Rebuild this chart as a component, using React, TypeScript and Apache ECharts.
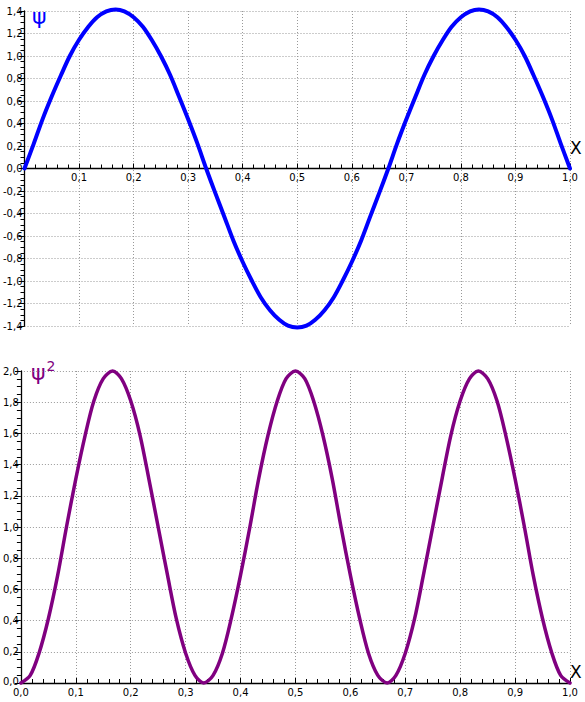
import React, { useEffect, useRef } from "react";
import * as echarts from "echarts";

// x positions (step 1/60)
const xValues = [
  0, 0.017, 0.033, 0.05, 0.067, 0.083, 0.1, 0.117, 0.133, 0.15,
  0.167, 0.183, 0.2, 0.217, 0.233, 0.25, 0.267, 0.283, 0.3, 0.317,
  0.333, 0.35, 0.367, 0.383, 0.4, 0.417, 0.433, 0.45, 0.467, 0.483,
  0.5, 0.517, 0.533, 0.55, 0.567, 0.583, 0.6, 0.617, 0.633, 0.65,
  0.667, 0.683, 0.7, 0.717, 0.733, 0.75, 0.767, 0.783, 0.8, 0.817,
  0.833, 0.85, 0.867, 0.883, 0.9, 0.917, 0.933, 0.95, 0.967, 0.983, 1.0,
];
// psi values
const psiValues = [
  0, 0.221, 0.437, 0.642, 0.831, 1.0, 1.144, 1.26, 1.345, 1.397,
  1.414, 1.397, 1.345, 1.26, 1.144, 1.0, 0.831, 0.642, 0.437, 0.221,
  0, -0.221, -0.437, -0.642, -0.831, -1.0, -1.144, -1.26, -1.345, -1.397,
  -1.414, -1.397, -1.345, -1.26, -1.144, -1.0, -0.831, -0.642, -0.437, -0.221,
  0, 0.221, 0.437, 0.642, 0.831, 1.0, 1.144, 1.26, 1.345, 1.397,
  1.414, 1.397, 1.345, 1.26, 1.144, 1.0, 0.831, 0.642, 0.437, 0.221, 0,
];
// psi^2 values
const psi2Values = [
  0, 0.049, 0.191, 0.412, 0.691, 1.0, 1.309, 1.588, 1.809, 1.951,
  2.0, 1.951, 1.809, 1.588, 1.309, 1.0, 0.691, 0.412, 0.191, 0.049,
  0, 0.049, 0.191, 0.412, 0.691, 1.0, 1.309, 1.588, 1.809, 1.951,
  2.0, 1.951, 1.809, 1.588, 1.309, 1.0, 0.691, 0.412, 0.191, 0.049,
  0, 0.049, 0.191, 0.412, 0.691, 1.0, 1.309, 1.588, 1.809, 1.951,
  2.0, 1.951, 1.809, 1.588, 1.309, 1.0, 0.691, 0.412, 0.191, 0.049, 0,
];

const fmt = (v: number) => v.toFixed(1).replace(".", ",");
const FONT = "DejaVu Sans";

export default function App() {
  const ref = useRef<HTMLDivElement>(null);
  useEffect(() => {
    document.body.style.margin = "0";
    const chart = echarts.init(ref.current!, null, { renderer: "svg" });
    const splitLine = { show: true, lineStyle: { color: "#999", type: [1, 2] as any, width: 1 } };
    const axisLine = { show: true, onZero: false, lineStyle: { color: "#000", width: 1.3 } };
    const label = { color: "#000", fontSize: 10, fontFamily: FONT };
    const xAxisBase = (gridIndex: number, showZero: boolean, offset: number) => ({
      type: "value",
      gridIndex,
      position: "bottom",
      offset,
      min: 0,
      max: 1,
      interval: 0.1,
      axisLine,
      axisTick: { show: true, inside: true, length: 5, lineStyle: { color: "#000" } },
      minorTick: { show: true, splitNumber: 5, length: 4, lineStyle: { color: "#000" } },
      splitLine,
      axisLabel: {
        ...label,
        margin: 4,
        formatter: (v: number) => (v === 0 && !showZero ? "" : fmt(v)),
      },
    });
    const yAxisBase = (gridIndex: number, min: number, max: number, liftZero: boolean) => ({
      type: "value",
      gridIndex,
      min,
      max,
      interval: 0.2,
      axisLine,
      axisTick: { show: true, length: 6, lineStyle: { color: "#000" } },
      minorTick: { show: true, splitNumber: 4, length: 4, lineStyle: { color: "#000" } },
      splitLine,
      axisLabel: {
        ...label,
        margin: 2,
        formatter: (v: number) => (liftZero && Math.abs(v) < 1e-9 ? "{z|" + fmt(v) + "}" : fmt(v)),
        rich: { z: { ...label, padding: [0, 0, 3, 0] } },
      },
    });
    chart.setOption({
      animation: false,
      grid: [
        { left: 20, right: 15, top: 11, height: 315 },
        { left: 20, right: 15, top: 371, height: 312 },
      ],
      xAxis: [xAxisBase(0, false, -157.5), xAxisBase(1, true, 0)],
      yAxis: [yAxisBase(0, -1.4, 1.4, false), yAxisBase(1, 0, 2, true)],
      series: [
        {
          type: "line",
          xAxisIndex: 0,
          yAxisIndex: 0,
          data: xValues.map((x, i) => [x, psiValues[i]]),
          smooth: 0.3,
          showSymbol: false,
          clip: false,
          lineStyle: { color: "#0000ff", width: 4, join: "round", cap: "round" },
        },
        {
          type: "line",
          xAxisIndex: 1,
          yAxisIndex: 1,
          data: xValues.map((x, i) => [x, psi2Values[i]]),
          smooth: 0.3,
          showSymbol: false,
          clip: false,
          lineStyle: { color: "#800080", width: 3.5, join: "round", cap: "round" },
        },
      ],
      graphic: [
        {
          type: "text",
          left: 32,
          top: 5,
          style: { text: "ψ", fill: "#0000ff", font: `22px ${FONT}` },
        },
        {
          type: "text",
          left: 570,
          top: 139,
          style: { text: "X", fill: "#000", font: `17px ${FONT}` },
        },
        {
          type: "text",
          left: 31,
          top: 359,
          style: {
            text: "{a|ψ}{b|2}",
            rich: {
              a: { fill: "#800080", fontSize: 22, fontFamily: FONT, verticalAlign: "bottom" },
              b: { fill: "#800080", fontSize: 14, fontFamily: FONT, verticalAlign: "top", padding: [0, 0, 10, 1] },
            },
          },
        },
        {
          type: "text",
          left: 570,
          top: 663,
          style: { text: "X", fill: "#000", font: `17px ${FONT}` },
        },
      ],
    });
    return () => chart.dispose();
  }, []);
  return <div ref={ref} style={{ width: 585, height: 702 }} />;
}
